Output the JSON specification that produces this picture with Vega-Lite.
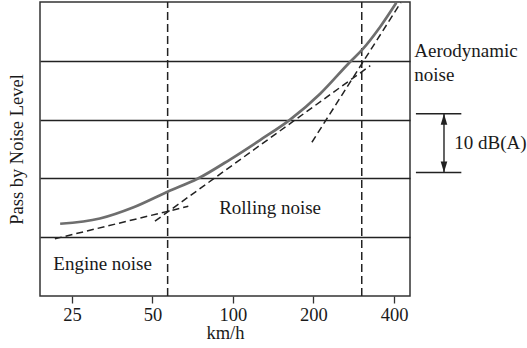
{
  "$schema": "https://vega.github.io/schema/vega-lite/v6.json",
  "width": 370,
  "height": 294,
  "autosize": "none",
  "padding": {"left": 40, "top": 2, "right": 117, "bottom": 52},
  "background": "white",
  "config": {
    "view": {"stroke": "#333333", "strokeWidth": 1.5},
    "font": "Liberation Serif",
    "text": {"font": "Liberation Serif", "fontSize": 19, "color": "#1a1a1a"}
  },
  "datasets": {
    "vlines": [
      {"v": 57, "db": 0, "db2": 50},
      {"v": 303, "db": 0, "db2": 50}
    ],
    "parts": [
      {"source": "engine", "v": 21.6, "db": 9.73},
      {"source": "engine", "v": 68.1, "db": 15.25},
      {"source": "rolling", "v": 51.1, "db": 12.73},
      {"source": "rolling", "v": 326, "db": 39.17},
      {"source": "aero", "v": 197.3, "db": 26.15},
      {"source": "aero", "v": 424, "db": 49.9}
    ],
    "total": [
      {"v": 22.6, "db": 12.29},
      {"v": 31.8, "db": 13.19},
      {"v": 42.3, "db": 15.06},
      {"v": 57.2, "db": 17.78},
      {"v": 73.7, "db": 19.93},
      {"v": 97.5, "db": 23.21},
      {"v": 126.3, "db": 26.52},
      {"v": 163.6, "db": 30.0},
      {"v": 211.9, "db": 34.41},
      {"v": 274.4, "db": 39.85},
      {"v": 304.3, "db": 41.89},
      {"v": 355.3, "db": 45.79},
      {"v": 408, "db": 49.86}
    ],
    "labels": [
      {"v": 21.3, "db": 5.4, "label": "Engine noise"},
      {"v": 88.8, "db": 14.9, "label": "Rolling noise"},
      {"v": 476, "db": 41.7, "label": "Aerodynamic"},
      {"v": 476, "db": 37.6, "label": "noise"},
      {"v": 672, "db": 26, "label": "10 dB(A)"}
    ],
    "bracket": [
      {"v": 483, "v2": 714, "db": 21},
      {"v": 483, "v2": 714, "db": 31}
    ],
    "arrow": [
      {"v": 615, "db": 21, "db2": 31}
    ],
    "heads": [
      {"v": 615, "db": 31, "dir": "up"},
      {"v": 615, "db": 21, "dir": "down"}
    ]
  },
  "encoding": {
    "x": {
      "field": "v",
      "type": "quantitative",
      "scale": {"type": "log", "domain": [19, 459], "nice": false},
      "axis": {
        "values": [25, 50, 100, 200, 400],
        "format": "d",
        "grid": false,
        "domain": false,
        "tickSize": 7,
        "tickColor": "#333333",
        "tickWidth": 1.3,
        "labelFont": "Liberation Serif",
        "labelFontSize": 18.5,
        "labelColor": "#1a1a1a",
        "labelPadding": 2,
        "title": "km/h",
        "titleFont": "Liberation Serif",
        "titleFontSize": 18.5,
        "titleFontWeight": "normal",
        "titleColor": "#1a1a1a",
        "titlePadding": 0
      }
    },
    "y": {
      "field": "db",
      "type": "quantitative",
      "scale": {"domain": [0, 50], "nice": false, "zero": false},
      "axis": {
        "values": [10, 20, 30, 40],
        "grid": true,
        "gridColor": "#222222",
        "gridWidth": 1.3,
        "ticks": false,
        "labels": false,
        "domain": false,
        "title": "Pass by Noise Level",
        "titleFont": "Liberation Serif",
        "titleFontSize": 18.5,
        "titleFontWeight": "normal",
        "titleColor": "#1a1a1a",
        "titlePadding": 14
      }
    }
  },
  "layer": [
    {
      "data": {"name": "vlines"},
      "mark": {"type": "rule", "stroke": "#222222", "strokeWidth": 1.5, "strokeDash": [8, 4]},
      "encoding": {"y2": {"field": "db2"}}
    },
    {
      "data": {"name": "parts"},
      "mark": {"type": "line", "stroke": "#222222", "strokeWidth": 1.5, "strokeDash": [7, 4]},
      "encoding": {"detail": {"field": "source"}}
    },
    {
      "data": {"name": "total"},
      "mark": {"type": "line", "stroke": "#6e6e6e", "strokeWidth": 2.7, "interpolate": "monotone"},
      "encoding": {}
    },
    {
      "data": {"name": "labels"},
      "mark": {"type": "text", "align": "left", "baseline": "middle"},
      "encoding": {"text": {"field": "label"}}
    },
    {
      "data": {"name": "bracket"},
      "mark": {"type": "rule", "stroke": "#222222", "strokeWidth": 1.4},
      "encoding": {"x2": {"field": "v2"}}
    },
    {
      "data": {"name": "arrow"},
      "mark": {"type": "rule", "stroke": "#222222", "strokeWidth": 1.4},
      "encoding": {"y2": {"field": "db2"}}
    },
    {
      "data": {"name": "heads"},
      "mark": {"type": "point", "filled": true, "fill": "#222222", "opacity": 1, "size": 484},
      "encoding": {
        "shape": {
          "field": "dir",
          "type": "nominal",
          "scale": {"domain": ["up", "down"], "range": ["M0,0L-0.3,1L0.3,1Z", "M0,0L-0.3,-1L0.3,-1Z"]},
          "legend": null
        }
      }
    }
  ]
}
